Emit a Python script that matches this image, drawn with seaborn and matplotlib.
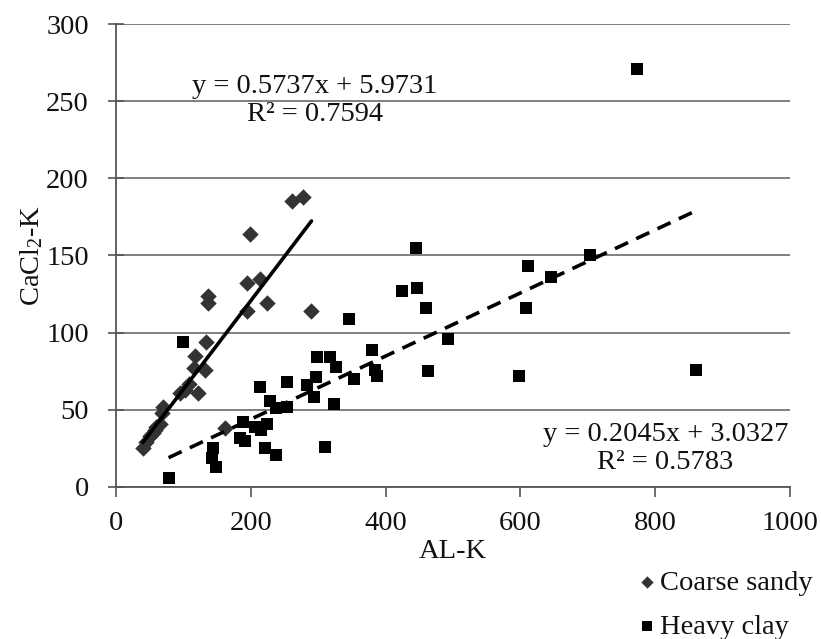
import numpy as np
import pandas as pd
import matplotlib
matplotlib.use("Agg")
import matplotlib.pyplot as plt
import seaborn as sns

# ---- data ----
sandy_x = [40, 45, 50, 55, 58, 60, 65, 68, 70, 95, 102, 108, 115, 117, 122, 132,
           134, 137, 137, 162, 194, 194, 199, 213, 224, 261, 277, 290]
sandy_y = [25, 29, 33, 35, 37, 39, 41, 48, 52, 61, 63, 67, 77, 85, 61, 76,
           94, 119, 124, 38, 114, 132, 164, 135, 119, 185, 188, 114]

clay_x = [78, 99, 142, 144, 148, 184, 189, 191, 206, 215, 221, 224, 238, 214, 229,
          237, 253, 254, 283, 297, 294, 298, 318, 326, 324, 310, 346, 353, 380, 384,
          387, 424, 445, 447, 460, 463, 492, 598, 608, 612, 646, 703, 773, 860]
clay_y = [6, 94, 19, 25, 13, 32, 42, 30, 39, 37, 25, 41, 21, 65, 56,
          51, 52, 68, 66, 71, 58, 84, 84, 78, 54, 26, 109, 70, 89, 76,
          72, 127, 155, 129, 116, 75, 96, 72, 116, 143, 136, 150, 271, 76]

groups = ["Coarse sandy", "Heavy clay"]
slopes = [0.5737, 0.2045]
intercepts = [5.9731, 3.0327]
r2 = [0.7594, 0.5783]

x_ticks = [0, 200, 400, 600, 800, 1000]
y_ticks = [0, 50, 100, 150, 200, 250, 300]

df = pd.DataFrame({
    "AL-K": sandy_x + clay_x,
    "CaCl2-K": sandy_y + clay_y,
    "Soil": [groups[0]] * len(sandy_x) + [groups[1]] * len(clay_x),
})

# ---- style ----
sns.set_theme(style="white")
plt.rcParams["font.family"] = ["Liberation Serif", "DejaVu Serif"]
plt.rcParams["mathtext.default"] = "regular"
FS = 20.5
TXT = "#111111"

fig = plt.figure(figsize=(8.21, 6.39), dpi=100)
ax = fig.add_axes([116 / 821, 1 - 487 / 639, (790 - 116) / 821, (487 - 24) / 639])

ax.set_xlim(0, 1000)
ax.set_ylim(0, 300)
ax.set_xticks(x_ticks)
ax.set_yticks(y_ticks)
ax.yaxis.grid(True, color="#7f7f7f", linewidth=1.4)
ax.xaxis.grid(False)
ax.set_axisbelow(True)

sns.scatterplot(data=df[df.Soil == groups[0]], x="AL-K", y="CaCl2-K",
                marker="D", color="#333333", s=70, linewidth=0, ax=ax,
                label=groups[0], zorder=3)
sns.scatterplot(data=df[df.Soil == groups[1]], x="AL-K", y="CaCl2-K",
                marker="s", color="#000000", s=75, linewidth=0, ax=ax,
                label=groups[1], zorder=3)

# regression lines from stated coefficients over data range
for xs, m, b, ls in [(sandy_x, slopes[0], intercepts[0], "-"),
                     (clay_x, slopes[1], intercepts[1], (0, (4, 2.5)))]:
    lx = np.array([min(xs), max(xs)])
    ax.plot(lx, m * lx + b, color="black", linewidth=2.6, linestyle=ls, zorder=4)

ax.text(295, 250.5, f"y = {slopes[0]}x + {intercepts[0]}\nR² = {r2[0]}",
        ha="center", va="center", multialignment="center", fontsize=FS,
        linespacing=1.12, color=TXT, zorder=5)
ax.text(815, 25, f"y = {slopes[1]}x + {intercepts[1]}\nR² = {r2[1]}",
        ha="center", va="center", multialignment="center", fontsize=FS,
        linespacing=1.12, color=TXT, zorder=5)

for s in ["top", "right"]:
    ax.spines[s].set_visible(False)
for s in ["left", "bottom"]:
    ax.spines[s].set_color("#555555")
    ax.spines[s].set_linewidth(1.3)

ax.tick_params(axis="y", direction="inout", length=11, width=1.2, color="#555555",
               labelsize=FS, pad=14, left=True)
ax.tick_params(axis="x", direction="out", length=7, width=1.2, color="#555555",
               labelsize=FS, pad=10, bottom=True)
for lab in ax.get_xticklabels() + ax.get_yticklabels():
    lab.set_color(TXT)

ax.set_xlabel("AL-K", fontsize=FS, color=TXT)
ax.set_ylabel("CaCl$_2$-K", fontsize=FS, color=TXT)
ax.xaxis.label.set_va("center")
ax.xaxis.set_label_coords((453 - 116) / 674, -(551 - 487) / 463)
ax.yaxis.label.set_va("center")
ax.yaxis.set_label_coords(-(116 - 32) / 674, 0.5)

leg = ax.legend(loc="upper left", bbox_to_anchor=(640 / 821, 1 - 570 / 639),
                bbox_transform=fig.transFigure, frameon=False, fontsize=FS,
                handlelength=0.5, handletextpad=0.2, labelspacing=0.62,
                markerscale=0.75, borderpad=0, borderaxespad=0)
for t in leg.get_texts():
    t.set_color(TXT)

fig.savefig("out.png", dpi=100)
